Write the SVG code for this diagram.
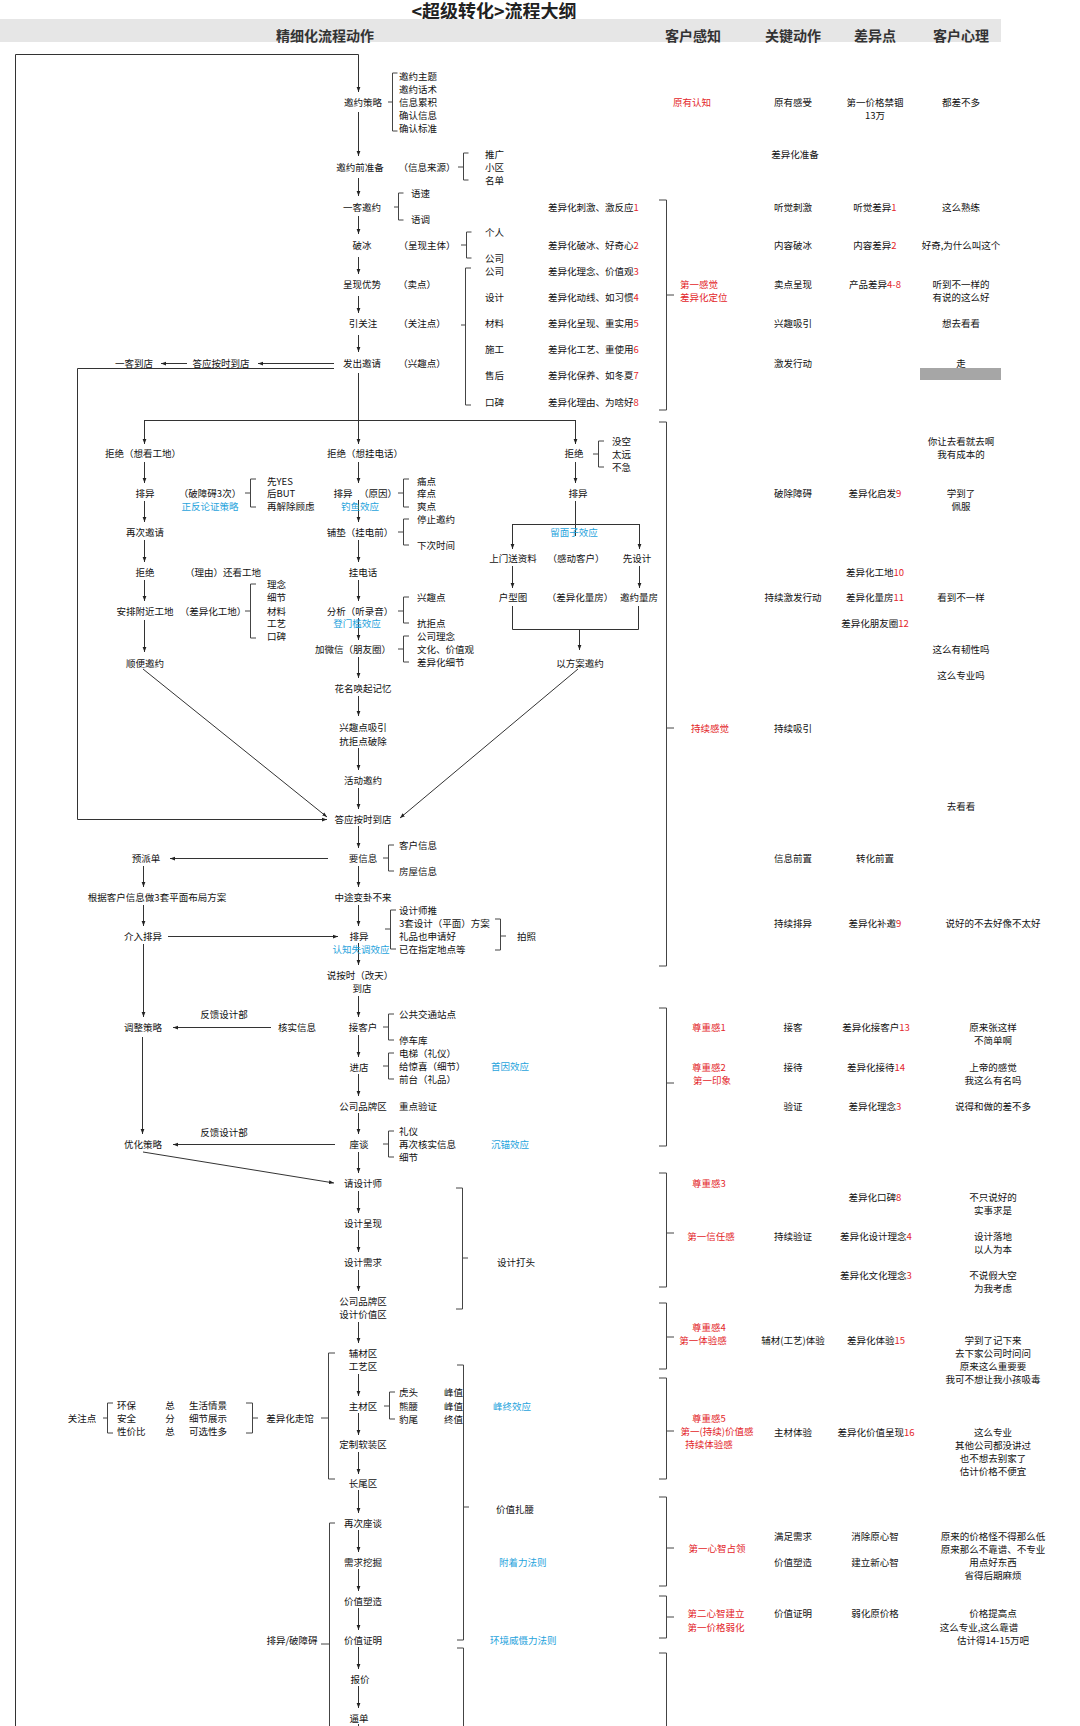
<svg xmlns="http://www.w3.org/2000/svg" width="1080" height="1726" viewBox="0 0 1080 1726">
<style>
text{font-family:"Noto Sans CJK SC","Noto Sans",sans-serif;font-size:9.5px;fill:#111;dominant-baseline:central}
.m{text-anchor:middle}
.r{fill:#e3262a}
.b{fill:#1fa3dc}
.h{font-size:14px;font-weight:bold;fill:#333;text-anchor:middle}
.ln{stroke:#333;stroke-width:1;fill:none}
.ar{marker-end:url(#ah)}
.br{stroke:#444;stroke-width:1;fill:none}
</style>
<defs>
<marker id="ah" viewBox="0 0 8 8" refX="8" refY="4" markerWidth="5" markerHeight="5" orient="auto"><path d="M0,1 L8,4 L0,7 z" fill="#222"/></marker>
</defs>
<rect width="1080" height="1726" fill="#fff"/>
<g id="header">
<text x="494" y="10" class="m" style="font-size:18px;font-weight:bold;fill:#222">&lt;超级转化&gt;流程大纲</text>
<rect x="0" y="19" width="1001" height="23" fill="#e6e6e6"/>
<text x="325" y="35" class="h">精细化流程动作</text>
<text x="693" y="35" class="h">客户感知</text>
<text x="793" y="35" class="h">关键动作</text>
<text x="875" y="35" class="h">差异点</text>
<text x="961" y="35" class="h">客户心理</text>
</g>
<g id="connectors">
<path class="ln ar" d="M15.5,1726 V54.5 H358.5 V92"/>
<path class="ln ar" d="M358.5,112 V156"/>
<path class="ln ar" d="M358.5,178 V196"/>
<path class="ln ar" d="M358.5,216 V234"/>
<path class="ln ar" d="M358.5,257 V274"/>
<path class="ln ar" d="M358.5,296 V313"/>
<path class="ln ar" d="M358.5,335 V352"/>
<path class="ln ar" d="M358.5,373 V444"/>
<path class="ln" d="M144.5,420.5 H575.5"/>
<path class="ln ar" d="M144.5,420 V444"/>
<path class="ln ar" d="M575.5,420 V444"/>
<path class="ln ar" d="M334,363.5 H258"/>
<path class="ln ar" d="M187,363.5 H161"/>
<path class="ln ar" d="M334,368.5 H77.5 V819.5 H327"/>
<path class="ln ar" d="M358.5,462 V483"/>
<path class="ln ar" d="M358.5,500 V522"/>
<path class="ln ar" d="M358.5,540 V562"/>
<path class="ln ar" d="M358.5,580 V601"/>
<path class="ln ar" d="M358.5,618 V640"/>
<path class="ln ar" d="M358.5,657 V678"/>
<path class="ln ar" d="M358.5,696 V716"/>
<path class="ln ar" d="M358.5,748 V770"/>
<path class="ln ar" d="M358.5,788 V809"/>
<path class="ln ar" d="M358.5,826 V848"/>
<path class="ln ar" d="M358.5,866 V887"/>
<path class="ln ar" d="M358.5,905 V926"/>
<path class="ln ar" d="M358.5,943 V965"/>
<path class="ln ar" d="M358.5,996 V1017"/>
<path class="ln ar" d="M358.5,1035 V1057"/>
<path class="ln ar" d="M358.5,1074 V1096"/>
<path class="ln ar" d="M358.5,1113 V1134"/>
<path class="ln ar" d="M358.5,1152 V1173"/>
<path class="ln ar" d="M358.5,1191 V1213"/>
<path class="ln ar" d="M358.5,1230 V1252"/>
<path class="ln ar" d="M358.5,1270 V1291"/>
<path class="ln ar" d="M358.5,1322 V1343"/>
<path class="ln ar" d="M358.5,1374 V1396"/>
<path class="ln ar" d="M358.5,1413 V1435"/>
<path class="ln ar" d="M358.5,1452 V1474"/>
<path class="ln ar" d="M358.5,1490 V1513"/>
<path class="ln ar" d="M358.5,1530 V1552"/>
<path class="ln ar" d="M358.5,1569 V1591"/>
<path class="ln ar" d="M358.5,1608 V1630"/>
<path class="ln ar" d="M358.5,1647 V1669"/>
<path class="ln ar" d="M358.5,1686 V1708"/>
<path class="ln" d="M358.5,1724 V1726"/>
<path class="ln ar" d="M144.5,462 V483"/>
<path class="ln ar" d="M144.5,501 V522"/>
<path class="ln ar" d="M144.5,540 V562"/>
<path class="ln ar" d="M144.5,580 V601"/>
<path class="ln ar" d="M144.5,620 V652"/>
<path class="ln ar" d="M575.5,462 V483"/>
<path class="ln" d="M575.5,501 V536"/>
<path class="ln" d="M512.5,524.5 H639.5"/>
<path class="ln ar" d="M512.5,524 V549"/>
<path class="ln ar" d="M639.5,524 V549"/>
<path class="ln ar" d="M512.5,566 V588"/>
<path class="ln ar" d="M639.5,566 V588"/>
<path class="ln" d="M512.5,606 V629.5 H638.5 V606"/>
<path class="ln ar" d="M579.5,629 V650"/>
<path class="ln ar" d="M578,669 L400,818"/>
<path class="ln ar" d="M143,669 L327,817"/>
<path class="ln ar" d="M328,858.5 H170"/>
<path class="ln ar" d="M143.5,866 V887"/>
<path class="ln ar" d="M143.5,905 V926"/>
<path class="ln ar" d="M168,936.5 H338"/>
<path class="ln ar" d="M143.5,944 V1017"/>
<path class="ln ar" d="M271,1027.5 H173"/>
<path class="ln ar" d="M142.5,1037 V1134"/>
<path class="ln ar" d="M335,1144.5 H173"/>
<path class="ln ar" d="M143,1152 L334,1183"/>
</g>
<g id="n-yaoyue-celue">
<text x="363" y="102" class="m">邀约策略</text>
<path class="br" d="M397.5,73 H392.5 V131 H397.5 M392.5,102 H388"/>
<text x="399" y="76">邀约主题</text><text x="399" y="89">邀约话术</text><text x="399" y="102">信息累积</text><text x="399" y="115">确认信息</text><text x="399" y="128">确认标准</text>
</g>
<g id="n-yaoyue-zhunbei">
<text x="360" y="167" class="m">邀约前准备</text>
<text x="427" y="167" class="m">（信息来源）</text>
<path class="br" d="M468.5,153 H463.5 V180 H468.5 M463.5,167 H458"/>
<text x="485" y="154">推广</text><text x="485" y="167">小区</text><text x="485" y="180">名单</text>
</g>
<g id="n-yike-yaoyue">
<text x="362" y="207" class="m">一客邀约</text>
<path class="br" d="M403.5,193 H398.5 V220 H403.5 M398.5,207 H394"/>
<text x="411" y="193">语速</text><text x="411" y="219">语调</text>
</g>
<g id="n-pobing">
<text x="362" y="245" class="m">破冰</text>
<text x="427" y="245" class="m">（呈现主体）</text>
<path class="br" d="M471.5,232 H466.5 V258 H471.5 M466.5,245 H461"/>
<text x="485" y="232">个人</text><text x="485" y="258">公司</text>
</g>
<g id="n-chengxian">
<text x="362" y="284" class="m">呈现优势</text>
<text x="417" y="284" class="m">（卖点）</text>
</g>
<g id="n-yinguanzhu">
<text x="363" y="323" class="m">引关注</text>
<text x="422" y="323" class="m">（关注点）</text>
<path class="br" d="M471,268 H465.5 V405 H471 M465.5,325 H461"/>
<text x="485" y="271">公司</text><text x="485" y="297">设计</text><text x="485" y="323">材料</text><text x="485" y="349">施工</text><text x="485" y="375">售后</text><text x="485" y="402">口碑</text>
</g>
<g id="n-chayi-list">
<text x="548" y="207">差异化刺激、激反应<tspan class="r">1</tspan></text>
<text x="548" y="245">差异化破冰、好奇心<tspan class="r">2</tspan></text>
<text x="548" y="271">差异化理念、价值观<tspan class="r">3</tspan></text>
<text x="548" y="297">差异化动线、如习惯<tspan class="r">4</tspan></text>
<text x="548" y="323">差异化呈现、重实用<tspan class="r">5</tspan></text>
<text x="548" y="349">差异化工艺、重使用<tspan class="r">6</tspan></text>
<text x="548" y="375">差异化保养、如冬夏<tspan class="r">7</tspan></text>
<text x="548" y="402">差异化理由、为啥好<tspan class="r">8</tspan></text>
</g>
<g id="n-fachu">
<text x="362" y="363" class="m">发出邀请</text>
<text x="422" y="363" class="m">（兴趣点）</text>
</g>
<g id="n-daying1"><text x="221" y="363" class="m">答应按时到店</text></g>
<g id="n-yike-daodian"><text x="134" y="363" class="m">一客到店</text></g>
<g id="n-left-branch">
<text x="143" y="453" class="m">拒绝（想看工地）</text>
<text x="145" y="493" class="m">排异</text>
<text x="210" y="493" class="m">（破障碍3次）</text>
<text x="210" y="506" class="m b">正反论证策略</text>
<path class="br" d="M256,479 H250.5 V507 H256 M250.5,493 H245"/>
<text x="267" y="481">先YES</text><text x="267" y="493">后BUT</text><text x="267" y="506">再解除顾虑</text>
<text x="145" y="532" class="m">再次邀请</text>
<text x="145" y="572" class="m">拒绝</text>
<text x="185" y="572">（理由）还看工地</text>
<text x="145" y="611" class="m">安排附近工地</text>
<text x="213" y="611" class="m">（差异化工地）</text>
<path class="br" d="M256,584 H250.5 V638 H256 M250.5,611 H245"/>
<text x="267" y="584">理念</text><text x="267" y="597">细节</text><text x="267" y="611">材料</text><text x="267" y="623">工艺</text><text x="267" y="636">口碑</text>
<text x="145" y="663" class="m">顺便邀约</text>
</g>
<g id="n-center-branch">
<text x="365" y="453" class="m">拒绝（想挂电话）</text>
<text x="343" y="493" class="m">排异</text>
<text x="378" y="493" class="m">（原因）</text>
<text x="360" y="506" class="m b">钓鱼效应</text>
<path class="br" d="M409,479 H403.5 V507 H409 M403.5,493 H398"/>
<text x="417" y="481">痛点</text><text x="417" y="493">痒点</text><text x="417" y="506">爽点</text>
<text x="360" y="532" class="m">铺垫（挂电前）</text>
<path class="br" d="M409,519 H403.5 V545 H409 M403.5,532 H398"/>
<text x="417" y="519">停止邀约</text><text x="417" y="545">下次时间</text>
<text x="363" y="572" class="m">挂电话</text>
<text x="360" y="611" class="m">分析（听录音）</text>
<text x="357" y="623" class="m b">登门槛效应</text>
<path class="br" d="M409,597 H403.5 V623 H409 M403.5,611 H398"/>
<text x="417" y="597">兴趣点</text><text x="417" y="623">抗拒点</text>
<text x="353" y="649" class="m">加微信（朋友圈）</text>
<path class="br" d="M409,636 H403.5 V662 H409 M403.5,649 H398"/>
<text x="417" y="636">公司理念</text><text x="417" y="649">文化、价值观</text><text x="417" y="662">差异化细节</text>
<text x="363" y="688" class="m">花名唤起记忆</text>
<text x="363" y="727" class="m">兴趣点吸引</text>
<text x="363" y="741" class="m">抗拒点破除</text>
<text x="363" y="780" class="m">活动邀约</text>
</g>
<g id="n-right-branch">
<text x="574" y="453" class="m">拒绝</text>
<path class="br" d="M604,441 H598.5 V467 H604 M598.5,454 H593"/>
<text x="612" y="441">没空</text><text x="612" y="454">太远</text><text x="612" y="467">不急</text>
<text x="578" y="493" class="m">排异</text>
<text x="574" y="532" class="m b">留面子效应</text>
<text x="513" y="558" class="m">上门送资料</text>
<text x="576" y="558" class="m">（感动客户）</text>
<text x="637" y="558" class="m">先设计</text>
<text x="513" y="597" class="m">户型图</text>
<text x="580" y="597" class="m">（差异化量房）</text>
<text x="639" y="597" class="m">邀约量房</text>
<text x="580" y="663" class="m">以方案邀约</text>
</g>
<g id="n-daying2"><text x="363" y="819" class="m">答应按时到店</text></g>
<g id="n-yaoxinxi">
<text x="363" y="858" class="m">要信息</text>
<path class="br" d="M394,845 H388.5 V871 H394 M388.5,858 H383"/>
<text x="399" y="845">客户信息</text><text x="399" y="871">房屋信息</text>
</g>
<g id="n-left-lower">
<text x="146" y="858" class="m">预派单</text>
<text x="157" y="897" class="m">根据客户信息做3套平面布局方案</text>
<text x="143" y="936" class="m">介入排异</text>
<text x="143" y="1027" class="m">调整策略</text>
<text x="224" y="1014" class="m">反馈设计部</text>
<text x="297" y="1027" class="m">核实信息</text>
<text x="143" y="1144" class="m">优化策略</text>
<text x="224" y="1132" class="m">反馈设计部</text>
</g>
<g id="n-zhongtu"><text x="363" y="897" class="m">中途变卦不来</text></g>
<g id="n-paiyi3">
<text x="359" y="936" class="m">排异</text>
<text x="361" y="949" class="m b">认知失调效应</text>
<path class="br" d="M396,910 H390.5 V949 H396 M390.5,929 H385"/>
<text x="399" y="910">设计师推</text><text x="399" y="923">3套设计（平面）方案</text><text x="399" y="936">礼品也申请好</text><text x="399" y="949">已在指定地点等</text>
<path class="br" d="M495,919 H500.5 V950 H495 M500.5,936 H506"/>
<text x="517" y="936">拍照</text>
</g>
<g id="n-shuoanshi">
<text x="360" y="975" class="m">说按时（改天）</text>
<text x="362" y="988" class="m">到店</text>
</g>
<g id="n-jiekehu">
<text x="363" y="1027" class="m">接客户</text>
<path class="br" d="M394,1014 H388.5 V1040 H394 M388.5,1027 H383"/>
<text x="399" y="1014">公共交通站点</text><text x="399" y="1040">停车库</text>
</g>
<g id="n-jindian">
<text x="359" y="1067" class="m">进店</text>
<path class="br" d="M394,1053 H388.5 V1079 H394 M388.5,1066 H383"/>
<text x="399" y="1053">电梯（礼仪）</text><text x="399" y="1066">给惊喜（细节）</text><text x="399" y="1079">前台（礼品）</text>
<text x="491" y="1066" class="b">首因效应</text>
</g>
<g id="n-pinpai1">
<text x="363" y="1106" class="m">公司品牌区</text>
<text x="399" y="1106">重点验证</text>
</g>
<g id="n-zuotan">
<text x="359" y="1144" class="m">座谈</text>
<path class="br" d="M394,1131 H388.5 V1157 H394 M388.5,1144 H383"/>
<text x="399" y="1131">礼仪</text><text x="399" y="1144">再次核实信息</text><text x="399" y="1157">细节</text>
<text x="491" y="1144" class="b">沉锚效应</text>
</g>
<g id="n-sheji">
<text x="363" y="1183" class="m">请设计师</text>
<text x="363" y="1223" class="m">设计呈现</text>
<text x="363" y="1262" class="m">设计需求</text>
<path class="br" d="M456,1188 H462.5 V1309 H456 M462.5,1258 H468"/>
<text x="497" y="1262">设计打头</text>
</g>
<g id="n-pinpai2">
<text x="363" y="1301" class="m">公司品牌区</text>
<text x="363" y="1314" class="m">设计价值区</text>
</g>
<g id="n-zouguan">
<text x="363" y="1353" class="m">辅材区</text>
<text x="363" y="1366" class="m">工艺区</text>
<text x="363" y="1406" class="m">主材区</text>
<path class="br" d="M395,1392 H389.5 V1419 H395 M389.5,1406 H384"/>
<text x="399" y="1392">虎头</text><text x="399" y="1406">熊腰</text><text x="399" y="1419">豹尾</text>
<text x="444" y="1392">峰值</text><text x="444" y="1406">峰值</text><text x="444" y="1419">终值</text>
<text x="493" y="1406" class="b">峰终效应</text>
<text x="363" y="1444" class="m">定制软装区</text>
<text x="363" y="1483" class="m">长尾区</text>
<path class="br" d="M335,1353 H328.5 V1479 H335 M328.5,1418 H321"/>
<text x="290" y="1418" class="m">差异化走馆</text>
<path class="br" d="M246,1403 H252.5 V1433 H246 M252.5,1418 H258"/>
<text x="82" y="1418" class="m">关注点</text>
<path class="br" d="M113,1403 H107.5 V1433 H113 M107.5,1418 H103"/>
<text x="117" y="1405">环保</text><text x="117" y="1418">安全</text><text x="117" y="1431">性价比</text>
<text x="170" y="1405" class="m">总</text><text x="170" y="1418" class="m">分</text><text x="170" y="1431" class="m">总</text>
<text x="189" y="1405">生活情景</text><text x="189" y="1418">细节展示</text><text x="189" y="1431">可选性多</text>
</g>
<g id="n-zuotan2">
<text x="363" y="1523" class="m">再次座谈</text>
<text x="363" y="1562" class="m">需求挖掘</text>
<text x="363" y="1601" class="m">价值塑造</text>
<text x="363" y="1640" class="m">价值证明</text>
<text x="360" y="1679" class="m">报价</text>
<text x="359" y="1718" class="m">逼单</text>
<path class="br" d="M335,1523 H329.5 V1730 M329.5,1644 H321"/>
<text x="292" y="1640" class="m">排异/破障碍</text>
<path class="br" d="M457,1365 H463.5 V1640 H457 M463.5,1507 H469"/>
<text x="496" y="1509">价值扎腰</text>
<text x="499" y="1562" class="b">附着力法则</text>
<text x="490" y="1640" class="b">环境威慑力法则</text>
<path class="br" d="M457,1648 H463.5 V1730"/>
</g>
<g id="col-ganzhi">
<text x="692" y="102" class="m r">原有认知</text>
<path class="br" d="M659,200 H666.5 V410 H659 M666.5,295 H674"/>
<text x="680" y="284" class="r">第一感觉</text><text x="680" y="297" class="r">差异化定位</text>
<path class="br" d="M659,422 H666.5 V966 H659 M666.5,728 H674"/>
<text x="691" y="728" class="r">持续感觉</text>
<path class="br" d="M659,1008 H666.5 V1146 H659 M666.5,1083 H674"/>
<text x="709" y="1027" class="m r">尊重感1</text>
<text x="709" y="1067" class="m r">尊重感2</text><text x="712" y="1080" class="m r">第一印象</text>
<path class="br" d="M659,1173 H666.5 V1287 H659 M666.5,1233 H674"/>
<text x="709" y="1183" class="m r">尊重感3</text>
<text x="711" y="1236" class="m r">第一信任感</text>
<path class="br" d="M659,1303 H666.5 V1369 H659 M666.5,1337 H674"/>
<text x="709" y="1327" class="m r">尊重感4</text><text x="703" y="1340" class="m r">第一体验感</text>
<path class="br" d="M659,1378 H666.5 V1479 H659 M666.5,1431 H674"/>
<text x="709" y="1418" class="m r">尊重感5</text><text x="717" y="1431" class="m r">第一(持续)价值感</text><text x="709" y="1444" class="m r">持续体验感</text>
<path class="br" d="M659,1497 H666.5 V1586 H659 M666.5,1548 H674"/>
<text x="717" y="1548" class="m r">第一心智占领</text>
<path class="br" d="M659,1596 H666.5 V1638 H659 M666.5,1617 H674"/>
<text x="716" y="1613" class="m r">第二心智建立</text><text x="716" y="1627" class="m r">第一价格弱化</text>
<path class="br" d="M659,1653 H666.5 V1730"/>
</g>
<g id="col-dongzuo">
<text x="793" y="102" class="m">原有感受</text>
<text x="795" y="154" class="m">差异化准备</text>
<text x="793" y="207" class="m">听觉刺激</text>
<text x="793" y="245" class="m">内容破冰</text>
<text x="793" y="284" class="m">卖点呈现</text>
<text x="793" y="323" class="m">兴趣吸引</text>
<text x="793" y="363" class="m">激发行动</text>
<text x="793" y="493" class="m">破除障碍</text>
<text x="793" y="597" class="m">持续激发行动</text>
<text x="793" y="728" class="m">持续吸引</text>
<text x="793" y="858" class="m">信息前置</text>
<text x="793" y="923" class="m">持续排异</text>
<text x="793" y="1027" class="m">接客</text>
<text x="793" y="1067" class="m">接待</text>
<text x="793" y="1106" class="m">验证</text>
<text x="793" y="1236" class="m">持续验证</text>
<text x="793" y="1340" class="m">辅材(工艺)体验</text>
<text x="793" y="1432" class="m">主材体验</text>
<text x="793" y="1536" class="m">满足需求</text>
<text x="793" y="1562" class="m">价值塑造</text>
<text x="793" y="1613" class="m">价值证明</text>
</g>
<g id="col-chayi">
<text x="875" y="102" class="m">第一价格禁锢</text><text x="875" y="115" class="m">13万</text>
<text x="875" y="207" class="m">听觉差异<tspan class="r">1</tspan></text>
<text x="875" y="245" class="m">内容差异<tspan class="r">2</tspan></text>
<text x="875" y="284" class="m">产品差异<tspan class="r">4-8</tspan></text>
<text x="875" y="493" class="m">差异化启发<tspan class="r">9</tspan></text>
<text x="875" y="572" class="m">差异化工地<tspan class="r">10</tspan></text>
<text x="875" y="597" class="m">差异化量房<tspan class="r">11</tspan></text>
<text x="875" y="623" class="m">差异化朋友圈<tspan class="r">12</tspan></text>
<text x="875" y="858" class="m">转化前置</text>
<text x="875" y="923" class="m">差异化补邀<tspan class="r">9</tspan></text>
<text x="876" y="1027" class="m">差异化接客户<tspan class="r">13</tspan></text>
<text x="876" y="1067" class="m">差异化接待<tspan class="r">14</tspan></text>
<text x="875" y="1106" class="m">差异化理念<tspan class="r">3</tspan></text>
<text x="875" y="1197" class="m">差异化口碑<tspan class="r">8</tspan></text>
<text x="876" y="1236" class="m">差异化设计理念<tspan class="r">4</tspan></text>
<text x="876" y="1275" class="m">差异化文化理念<tspan class="r">3</tspan></text>
<text x="876" y="1340" class="m">差异化体验<tspan class="r">15</tspan></text>
<text x="876" y="1432" class="m">差异化价值呈现<tspan class="r">16</tspan></text>
<text x="875" y="1536" class="m">消除原心智</text>
<text x="875" y="1562" class="m">建立新心智</text>
<text x="875" y="1613" class="m">弱化原价格</text>
</g>
<g id="col-xinli">
<text x="961" y="102" class="m">都差不多</text>
<text x="961" y="207" class="m">这么熟练</text>
<text x="961" y="245" class="m">好奇,为什么叫这个</text>
<text x="961" y="284" class="m">听到不一样的</text><text x="961" y="297" class="m">有说的这么好</text>
<text x="961" y="323" class="m">想去看看</text>
<text x="961" y="363" class="m">走</text>
<rect x="920" y="368" width="81" height="12" fill="#a6a6a6"/>
<text x="961" y="441" class="m">你让去看就去啊</text><text x="961" y="454" class="m">我有成本的</text>
<text x="961" y="493" class="m">学到了</text><text x="961" y="506" class="m">佩服</text>
<text x="961" y="597" class="m">看到不一样</text>
<text x="961" y="649" class="m">这么有韧性吗</text>
<text x="961" y="675" class="m">这么专业吗</text>
<text x="961" y="806" class="m">去看看</text>
<text x="993" y="923" class="m">说好的不去好像不太好</text>
<text x="993" y="1027" class="m">原来张这样</text><text x="993" y="1040" class="m">不简单啊</text>
<text x="993" y="1067" class="m">上帝的感觉</text><text x="993" y="1080" class="m">我这么有名吗</text>
<text x="993" y="1106" class="m">说得和做的差不多</text>
<text x="993" y="1197" class="m">不只说好的</text><text x="993" y="1210" class="m">实事求是</text>
<text x="993" y="1236" class="m">设计落地</text><text x="993" y="1249" class="m">以人为本</text>
<text x="993" y="1275" class="m">不说假大空</text><text x="993" y="1288" class="m">为我考虑</text>
<text x="993" y="1340" class="m">学到了记下来</text><text x="993" y="1353" class="m">去下家公司时问问</text><text x="993" y="1366" class="m">原来这么重要要</text><text x="993" y="1379" class="m">我可不想让我小孩吸毒</text>
<text x="993" y="1432" class="m">这么专业</text><text x="993" y="1445" class="m">其他公司都没讲过</text><text x="993" y="1458" class="m">也不想去别家了</text><text x="993" y="1471" class="m">估计价格不便宜</text>
<text x="993" y="1536" class="m">原来的价格怪不得那么低</text><text x="993" y="1549" class="m">原来那么不靠谱、不专业</text><text x="993" y="1562" class="m">用点好东西</text><text x="993" y="1575" class="m">省得后期麻烦</text>
<text x="993" y="1613" class="m">价格提高点</text><text x="979" y="1627" class="m">这么专业,这么靠谱</text><text x="993" y="1640" class="m">估计得14-15万吧</text>
</g>
</svg>
